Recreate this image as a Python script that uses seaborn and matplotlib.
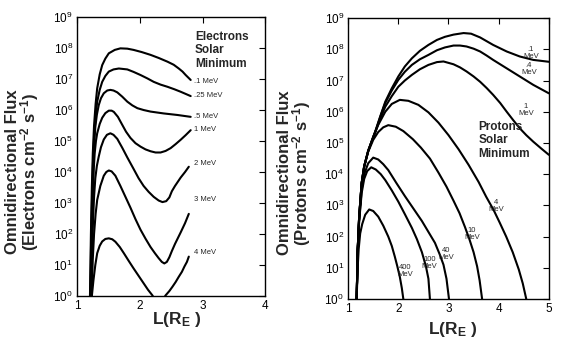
import numpy as np
import pandas as pd
import matplotlib
matplotlib.use("Agg")
import matplotlib.pyplot as plt
import seaborn as sns

# ---------------- data (L values and log10 of omnidirectional flux) ----------------
e_labels = [".1 MeV", ".25 MeV", ".5 MeV", "1 MeV", "2 MeV", "3 MeV", "4 MeV"]
e_L = [
    [1.205, 1.22, 1.235, 1.25, 1.27, 1.295, 1.32, 1.36, 1.40, 1.45, 1.505, 1.6, 1.69, 1.80,
     1.90, 2.03, 2.17, 2.30, 2.44, 2.54, 2.62, 2.68, 2.73, 2.78, 2.81],
    [1.21, 1.225, 1.24, 1.255, 1.27, 1.295, 1.32, 1.36, 1.40, 1.45, 1.505, 1.58, 1.665, 1.80,
     1.90, 2.01, 2.12, 2.22, 2.33, 2.44, 2.55, 2.65, 2.73, 2.81],
    [1.215, 1.23, 1.245, 1.26, 1.275, 1.29, 1.315, 1.345, 1.38, 1.425, 1.48, 1.53, 1.58, 1.64,
     1.72, 1.80, 1.88, 1.96, 2.06, 2.17, 2.38, 2.60, 2.81],
    [1.22, 1.235, 1.25, 1.265, 1.28, 1.30, 1.32, 1.36, 1.40, 1.45, 1.505, 1.55, 1.585, 1.65,
     1.72, 1.78, 1.85, 1.93, 2.01, 2.09, 2.17, 2.25, 2.33, 2.41, 2.49, 2.57, 2.65, 2.73, 2.81],
    [1.225, 1.24, 1.255, 1.27, 1.29, 1.315, 1.345, 1.38, 1.425, 1.475, 1.53, 1.58, 1.64, 1.72,
     1.80, 1.90, 1.98, 2.06, 2.14, 2.22, 2.30, 2.36, 2.42, 2.47, 2.51, 2.56, 2.65, 2.72, 2.78],
    [1.23, 1.25, 1.27, 1.295, 1.32, 1.37, 1.425, 1.465, 1.505, 1.55, 1.61, 1.69, 1.77, 1.85,
     1.93, 2.01, 2.09, 2.17, 2.24, 2.30, 2.35, 2.39, 2.43, 2.47, 2.51, 2.56, 2.65, 2.72, 2.78],
    [1.235, 1.26, 1.29, 1.32, 1.36, 1.40, 1.45, 1.505, 1.56, 1.61, 1.68, 1.745, 1.82, 1.90,
     1.98, 2.06, 2.13, 2.20, 2.30, 2.41, 2.47, 2.52, 2.57, 2.62, 2.67, 2.71, 2.75, 2.78],
]
e_logF = [
    [0.0, 2.0, 3.5, 4.6, 5.5, 6.2, 6.7, 7.15, 7.45, 7.66, 7.83, 7.94, 7.99, 7.98,
     7.94, 7.87, 7.78, 7.68, 7.56, 7.46, 7.34, 7.24, 7.13, 7.03, 6.97],
    [0.0, 2.0, 3.3, 4.4, 5.1, 5.8, 6.27, 6.65, 6.91, 7.1, 7.24, 7.31, 7.34, 7.31,
     7.23, 7.13, 7.02, 6.91, 6.82, 6.75, 6.67, 6.59, 6.52, 6.45],
    [0.0, 2.0, 3.3, 4.3, 5.0, 5.45, 5.85, 6.16, 6.38, 6.54, 6.63, 6.65, 6.63, 6.57,
     6.43, 6.27, 6.15, 6.06, 6.0, 5.95, 5.89, 5.84, 5.78],
    [0.0, 2.0, 3.2, 4.1, 4.6, 5.0, 5.25, 5.55, 5.75, 5.9, 5.98, 5.98, 5.94, 5.78,
     5.52, 5.3, 5.1, 4.93, 4.82, 4.73, 4.67, 4.63, 4.63, 4.68, 4.77, 4.9, 5.04, 5.19, 5.35],
    [0.0, 1.5, 2.5, 3.2, 3.8, 4.2, 4.5, 4.8, 5.05, 5.2, 5.25, 5.2, 5.07, 4.78,
     4.47, 4.1, 3.8, 3.55, 3.36, 3.2, 3.08, 3.03, 3.06, 3.18, 3.38, 3.55, 3.82, 4.0, 4.17],
    [0.0, 1.2, 2.0, 2.65, 3.1, 3.55, 3.88, 4.0, 4.05, 4.02, 3.88, 3.55, 3.2, 2.85,
     2.48, 2.14, 1.85, 1.58, 1.38, 1.22, 1.1, 1.05, 1.1, 1.25, 1.45, 1.68, 2.05, 2.35, 2.65],
    [0.0, 0.5, 1.0, 1.38, 1.62, 1.76, 1.84, 1.86, 1.83, 1.75, 1.58, 1.38, 1.14, 0.89,
     0.65, 0.41, 0.2, 0.02, -0.35, 0.02, 0.16, 0.3, 0.45, 0.62, 0.78, 0.95, 1.1, 1.27],
]
e_label_y = [6.92, 6.46, 5.8, 5.38, 4.28, 3.1, 1.4]

p_labels = [".1\nMeV", ".4\nMeV", "1\nMeV", "4\nMeV", "10\nMeV", "40\nMeV", "100\nMeV", "400\nMeV"]
p_L = [
    [1.17, 1.19, 1.22, 1.27, 1.32, 1.40, 1.54, 1.64, 1.74, 1.87, 2.0, 2.13, 2.27, 2.43, 2.6,
     2.77, 2.93, 3.1, 3.3, 3.45, 3.63, 3.76, 3.89, 4.16, 4.42, 4.69, 5.0],
    [1.17, 1.19, 1.22, 1.27, 1.32, 1.40, 1.54, 1.64, 1.74, 1.87, 2.0, 2.13, 2.27, 2.43, 2.6,
     2.77, 2.93, 3.1, 3.23, 3.36, 3.5, 3.63, 3.76, 3.89, 4.16, 4.42, 4.69, 5.0],
    [1.17, 1.19, 1.22, 1.27, 1.32, 1.40, 1.54, 1.64, 1.74, 1.87, 2.0, 2.13, 2.27, 2.43, 2.6,
     2.77, 2.9, 3.1, 3.23, 3.36, 3.5, 3.63, 3.76, 3.89, 4.03, 4.16, 4.29, 4.42, 4.55, 4.69,
     4.85, 5.0],
    [1.17, 1.19, 1.22, 1.27, 1.32, 1.40, 1.50, 1.60, 1.74, 1.87, 2.03, 2.2, 2.4, 2.6, 2.8,
     3.0, 3.2, 3.4, 3.6, 3.75, 3.9, 4.02, 4.15, 4.28, 4.4, 4.48, 4.55],
    [1.17, 1.19, 1.22, 1.27, 1.32, 1.40, 1.50, 1.60, 1.70, 1.80, 1.95, 2.1, 2.29, 2.45, 2.63,
     2.8, 2.96, 3.1, 3.22, 3.33, 3.42, 3.5, 3.57, 3.62, 3.67],
    [1.17, 1.19, 1.22, 1.27, 1.32, 1.40, 1.50, 1.60, 1.70, 1.80, 1.96, 2.13, 2.3, 2.47, 2.6,
     2.73, 2.82, 2.9, 2.96, 3.01],
    [1.17, 1.19, 1.22, 1.27, 1.32, 1.38, 1.46, 1.55, 1.65, 1.74, 1.87, 2.0, 2.13, 2.27, 2.37,
     2.47, 2.55, 2.6, 2.63],
    [1.17, 1.19, 1.21, 1.24, 1.28, 1.34, 1.42, 1.50, 1.60, 1.70, 1.80, 1.87, 1.93, 1.98, 2.03,
     2.07, 2.10],
]
p_logF = [
    [0.0, 1.57, 2.64, 3.72, 4.25, 4.75, 5.36, 5.85, 6.32, 6.75, 7.13, 7.45, 7.71, 7.95, 8.14,
     8.3, 8.4, 8.47, 8.52, 8.5, 8.38, 8.26, 8.14, 7.93, 7.77, 7.66, 7.6],
    [0.0, 1.57, 2.64, 3.72, 4.25, 4.75, 5.36, 5.84, 6.28, 6.68, 7.02, 7.28, 7.5, 7.68, 7.82,
     7.97, 8.06, 8.12, 8.12, 8.09, 8.02, 7.93, 7.8, 7.66, 7.39, 7.13, 6.86, 6.59],
    [0.0, 1.57, 2.64, 3.72, 4.25, 4.75, 5.34, 5.78, 6.16, 6.5, 6.8, 7.0, 7.18, 7.36, 7.5,
     7.59, 7.61, 7.52, 7.42, 7.29, 7.13, 6.96, 6.76, 6.54, 6.28, 6.0, 5.73, 5.47, 5.25, 5.04,
     4.82, 4.62],
    [0.0, 1.57, 2.64, 3.72, 4.25, 4.74, 5.2, 5.58, 6.0, 6.25, 6.38, 6.35, 6.22, 5.98, 5.65,
     5.25, 4.8, 4.3, 3.75, 3.28, 2.85, 2.45, 2.0, 1.5, 0.95, 0.5, 0.0],
    [0.0, 1.57, 2.64, 3.72, 4.25, 4.72, 5.1, 5.35, 5.5, 5.57, 5.52, 5.38, 5.12, 4.85, 4.5,
     4.05, 3.6, 3.15, 2.75, 2.3, 1.9, 1.5, 1.05, 0.6, 0.0],
    [0.0, 1.5, 2.55, 3.5, 4.0, 4.35, 4.53, 4.47, 4.32, 4.13, 3.72, 3.3, 2.9, 2.5, 2.15,
     1.8, 1.45, 1.1, 0.65, 0.0],
    [0.0, 1.5, 2.5, 3.4, 3.85, 4.1, 4.22, 4.15, 4.0, 3.81, 3.48, 3.12, 2.72, 2.28, 1.92,
     1.5, 1.05, 0.65, 0.0],
    [0.0, 1.0, 1.6, 2.1, 2.4, 2.7, 2.87, 2.82, 2.64, 2.35, 2.0, 1.7, 1.36, 1.05, 0.71,
     0.35, 0.0],
]
p_label_xy = [(4.64, 7.87), (4.60, 7.38), (4.54, 6.06), (3.95, 2.98),
              (3.47, 2.08), (2.96, 1.44), (2.62, 1.17), (2.14, 0.9)]

# ---------------- figure ----------------
sns.set_theme(style="white")
plt.rcParams["font.family"] = ["Liberation Sans", "DejaVu Sans"]
plt.rcParams["mathtext.fontset"] = "custom"
plt.rcParams["mathtext.rm"] = "Liberation Sans"
plt.rcParams["mathtext.it"] = "Liberation Sans:italic"
plt.rcParams["mathtext.bf"] = "Liberation Sans:bold"

fig = plt.figure(figsize=(5.67, 3.41), dpi=100)
axL = fig.add_axes([0.136, 0.132, 0.332, 0.818])
axR = fig.add_axes([0.614, 0.123, 0.354, 0.824])


def make_df(labels, Ls, logs):
    rows = []
    for lab, xs, ys in zip(labels, Ls, logs):
        for x, y in zip(xs, ys):
            rows.append({"L": x, "flux": 10.0 ** y, "energy": lab})
    return pd.DataFrame(rows)


dfe = make_df(e_labels, e_L, e_logF)
dfp = make_df(p_labels, p_L, p_logF)

for ax, df, labels in [(axL, dfe, e_labels), (axR, dfp, p_labels)]:
    sns.lineplot(data=df, x="L", y="flux", hue="energy", units="energy",
                 estimator=None, palette=["black"] * len(labels),
                 linewidth=1.5, legend=False, ax=ax, sort=True)
    ax.set_yscale("log")
    ax.set_ylim(1, 1e9)
    ax.set_yticks([10.0 ** k for k in range(10)])
    ax.minorticks_off()
    ax.tick_params(axis="both", direction="in", length=4, width=0.8,
                   top=True, right=True, labelsize=8.5, colors="black", pad=3)
    for s in ax.spines.values():
        s.set_color("black")
        s.set_linewidth(1.0)
    ax.set_xlabel("L(R$_\\mathbf{E}$ )", fontsize=12.5, fontweight="bold")

axL.set_xlim(1, 4)
axL.set_xticks([1, 2, 3, 4])
axR.set_xlim(1, 5)
axR.set_xticks([1, 2, 3, 4, 5])

axL.set_ylabel("Omnidirectional Flux\n(Electrons cm$^{\\mathbf{-2}}$ s$^{\\mathbf{-1}}$)",
               fontsize=12, fontweight="bold", linespacing=0.9)
axR.set_ylabel("Omnidirectional Flux\n(Protons cm$^{\\mathbf{-2}}$ s$^{\\mathbf{-1}}$)",
               fontsize=12, fontweight="bold", linespacing=0.9)
axL.yaxis.set_label_coords(-0.19, 0.445)
axR.yaxis.set_label_coords(-0.175, 0.448)
axL.xaxis.set_label_coords(0.53, -0.05)
axR.xaxis.set_label_coords(0.52, -0.075)

for lab, y in zip(e_labels, e_label_y):
    axL.text(2.855, 10.0 ** y, lab, fontsize=5.5, va="center", ha="left")
axL.text(2.88, 10.0 ** 8.55, "Electrons\nSolar\nMinimum", fontsize=8.5,
         fontweight="bold", va="top", ha="left", linespacing=1.15)

for lab, (x, y) in zip(p_labels, p_label_xy):
    axR.text(x, 10.0 ** y, lab, fontsize=5.5, va="center", ha="center",
             linespacing=1.0)
axR.text(3.6, 10.0 ** 5.7, "Protons\nSolar\nMinimum", fontsize=8.5,
         fontweight="bold", va="top", ha="left", linespacing=1.15)

fig.savefig("out.png", dpi=100, facecolor="white")
